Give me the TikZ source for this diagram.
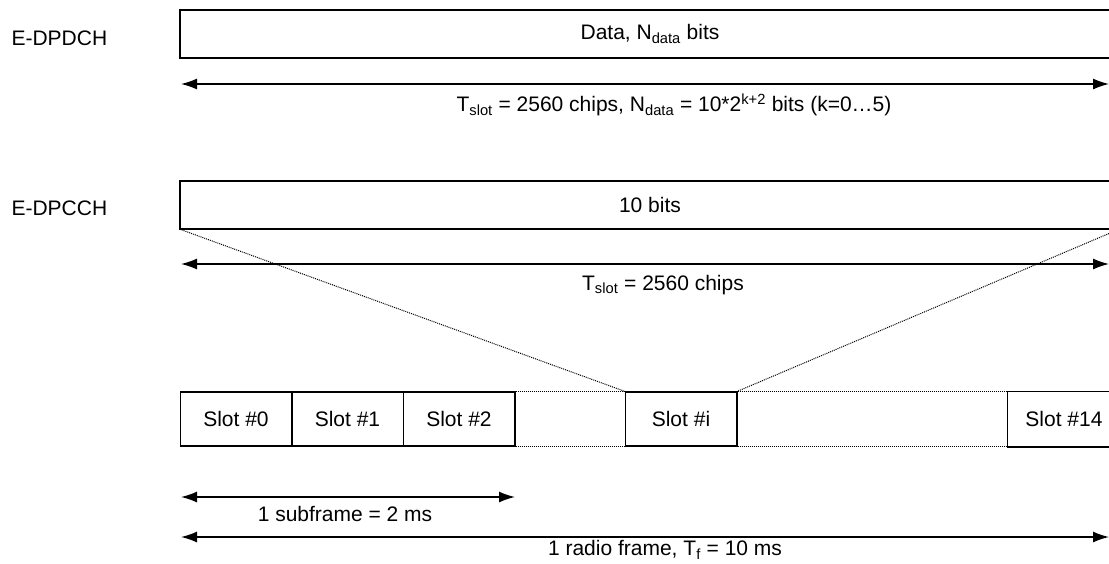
\documentclass[tikz,border=0pt]{standalone}
\usepackage{fontspec}
\setmainfont{Liberation Sans}
\usetikzlibrary{arrows.meta, positioning}

\begin{document}
\begin{tikzpicture}[x=1pt, y=-1pt, node distance=111.5pt, on grid,
  every node/.style={font=\fontsize{21}{25}\selectfont},
  boxline/.style={line width=1.5pt},
  slotbox/.style={draw, boxline, minimum width=111.5pt, minimum height=54pt, inner sep=0pt},
  openbox/.style={minimum width=940pt, minimum height=48pt, inner sep=0pt},
  dim/.style={{Latex[length=16pt,width=11pt]}-{Latex[length=16pt,width=11pt]}, line width=1.4pt},
  guide/.style={line width=1pt, dash pattern=on 1pt off 1pt}]
  \useasboundingbox (0,0) rectangle (1109,563);
  \coordinate (edge) at (1109,0);

  % E-DPDCH
  \node[anchor=west] (dpdch) at (8,38) {E-DPDCH};
  \node[openbox] (data) at (650,34) {Data, N\textsubscript{data} bits};
  \draw[boxline] (data.north west -| edge) -- (data.north west) -- (data.south west) -- (data.south west -| edge);
  \coordinate (d1l) at (181,84);
  \coordinate (d1r) at (1109,84);
  \draw[dim] (d1l) -- (d1r);
  \node (tslot1) at (674,105) {T\textsubscript{slot} = 2560 chips, N\textsubscript{data} = 10*2\textsuperscript{k+2} bits (k=0…5)};

  % E-DPCCH
  \node[anchor=west] (dpcch) at (8,208) {E-DPCCH};
  \node[openbox] (ctrl) at (650,205) {10 bits};
  \draw[boxline] (ctrl.north west -| edge) -- (ctrl.north west) -- (ctrl.south west) -- (ctrl.south west -| edge);
  \coordinate (d2l) at (181,264);
  \coordinate (d2r) at (1109,264);
  \draw[dim] (d2l) -- (d2r);
  \node (tslot2) at (663,285) {T\textsubscript{slot} = 2560 chips};

  % slots
  \node[slotbox] (s0) at (236,419) {Slot \#0};
  \node[slotbox] (s1) [right=of s0] {Slot \#1};
  \node[slotbox] (s2) [right=of s1] {Slot \#2};
  \node[slotbox] (si) at (681,419) {Slot \#i};
  \node[slotbox, draw=none] (s14) at (1064,419) {Slot \#14};
  \draw[boxline] (s14.north west -| edge) -- (s14.north west) -- (s14.south west) -- (s14.south west -| edge);
  \coordinate (cr) at (1109,233.5);
  \draw[guide] (ctrl.south west) -- (si.north west);
  \draw[guide] (cr) -- (si.north east);
  \draw[guide] (s2.north east) -- (si.north west);
  \draw[guide] (s2.south east) -- (si.south west);
  \draw[guide] (si.north east) -- (s14.north west);
  \draw[guide] (si.south east) -- (s14.south west);

  % frame timing
  \coordinate (sfl) at (181,497);
  \coordinate (sfr) at (515,497);
  \draw[dim] (sfl) -- (sfr);
  \node (sflbl) at (345,514) {1 subframe = 2 ms};
  \coordinate (rfl) at (181,537);
  \coordinate (rfr) at (1109,537);
  \draw[dim] (rfl) -- (rfr);
  \node (rflbl) at (665,550) {1 radio frame, T\textsubscript{f} = 10 ms};
\end{tikzpicture}
\end{document}
